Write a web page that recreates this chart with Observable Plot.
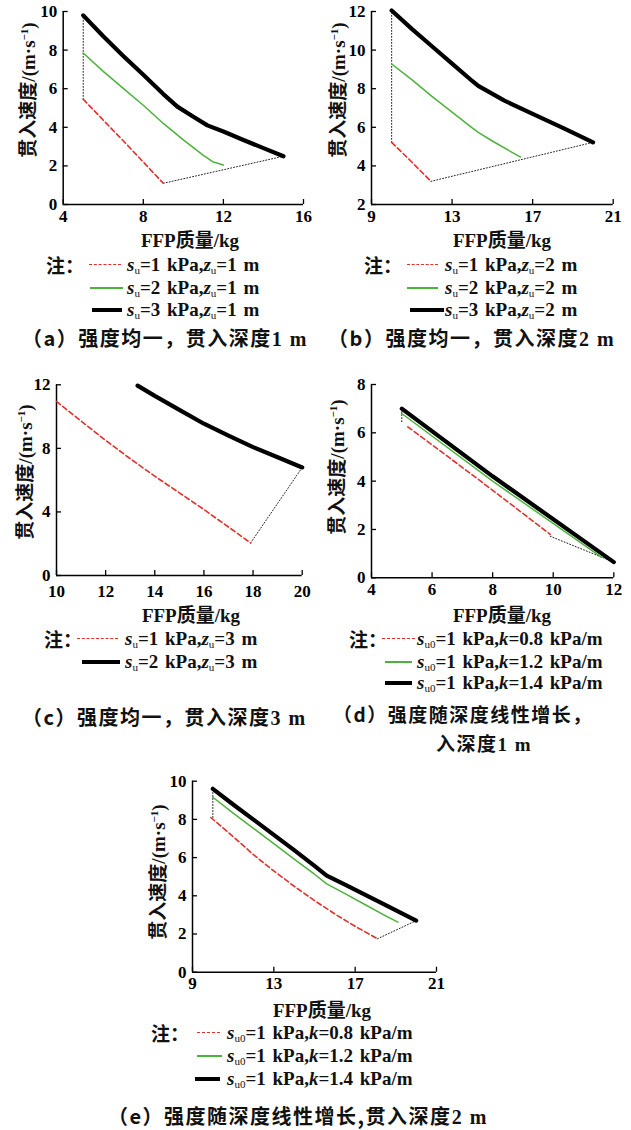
<!DOCTYPE html>
<html>
<head>
<meta charset="utf-8">
<script src="https://cdn.jsdelivr.net/npm/d3@7"></script>
<script src="https://cdn.jsdelivr.net/npm/@observablehq/plot@0.6"></script>
<style>
  html, body { margin: 0; padding: 0; background: #fff; }
  #page { position: relative; width: 631px; height: 1130px; overflow: hidden; background: #fff;
          font-family: "Liberation Serif", "Noto Sans CJK SC", serif; color: #111; font-weight: bold; }
  .abs { position: absolute; white-space: nowrap; }
  .ctr { transform: translate(-50%, -50%); }
  .rot { transform: translate(-50%, -50%) rotate(-90deg); }
  .ytitle { font-size: 19px; line-height: 22px; }
  .xtitle { font-size: 19px; line-height: 22px; }
  .leg { font-size: 19px; line-height: 20px; word-spacing: 2px; }
  .leg sub { font-size: 11px; vertical-align: -3px; line-height: 0; font-weight: normal; }
  .ytitle sup { font-size: 11px; vertical-align: 7px; line-height: 0; }
  .cap { font-size: 20px; line-height: 22px; letter-spacing: 1.5px; }
  .zh { font-family: "Noto Sans CJK SC", sans-serif; }
  .swatch { position: absolute; height: 0; }
</style>
</head>
<body>
<div id="page"></div>
<script>
// ---------------- DATA ----------------
// (a) uniform strength, depth 1 m
const aMassS1 = [5, 7, 9];
const aVelS1  = [5.45, 3.3, 1.1];
const aMassS2 = [5, 6, 7, 8, 9, 10, 11, 11.5, 12];
const aVelS2  = [7.85, 6.9, 6.02, 5.14, 4.2, 3.35, 2.55, 2.2, 2.05];
const aMassS3 = [5, 6, 7, 8, 9, 9.7, 10.5, 11.2, 12, 13, 14, 15];
const aVelS3  = [9.8, 8.72, 7.7, 6.72, 5.72, 5.07, 4.55, 4.1, 3.78, 3.34, 2.92, 2.5];
const aMassStart = [5, 5];   const aVelStart = [5.45, 9.8];
const aMassEnd   = [9, 15];  const aVelEnd   = [1.1, 2.5];

// (b) uniform strength, depth 2 m
const bMassS1 = [10, 11, 11.95];
const bVelS1  = [5.22, 4.2, 3.2];
const bMassS2 = [10, 11, 12, 13, 14, 14.3, 15, 16, 16.4];
const bVelS2  = [9.28, 8.47, 7.6, 6.79, 5.97, 5.74, 5.29, 4.69, 4.45];
const bMassS3 = [10, 11, 12, 13, 14, 14.3, 15.6, 17, 18.5, 20];
const bVelS3  = [12.05, 11.1, 10.2, 9.3, 8.4, 8.15, 7.38, 6.7, 5.97, 5.22];
const bMassStart = [10, 10];     const bVelStart = [5.22, 12.05];
const bMassEnd   = [11.95, 20];  const bVelEnd   = [3.2, 5.22];

// (c) uniform strength, depth 3 m
const cMassS1 = [10, 11, 12, 13, 14, 15, 16, 17, 17.9];
const cVelS1  = [10.95, 9.72, 8.5, 7.35, 6.25, 5.2, 4.15, 3.05, 2.05];
const cMassS2 = [13.3, 14, 15, 16, 17, 18, 19, 20];
const cVelS2  = [11.95, 11.3, 10.42, 9.55, 8.8, 8.08, 7.44, 6.8];
const cMassEnd = [17.9, 20];  const cVelEnd = [2.05, 6.8];

// (d) strength increasing with depth, depth 1 m
const dMassK08 = [5.2, 7.5, 9.9];
const dVelK08  = [6.25, 4.1, 1.8];
const dMassK12 = [5, 8, 11.6];
const dVelK12  = [6.8, 4.0, 0.85];
const dMassK14 = [5, 8, 12];
const dVelK14  = [7.0, 4.2, 0.65];
const dMassStart = [5, 5];     const dVelStart = [7.0, 6.4];
const dMassEnd   = [9.9, 12];  const dVelEnd   = [1.72, 0.65];

// (e) strength increasing with depth, depth 2 m
const eMassK08 = [9.9, 11, 12, 13, 14, 15, 16, 17, 18.1];
const eVelK08  = [8.1, 7.1, 6.15, 5.3, 4.5, 3.75, 3.05, 2.4, 1.75];
const eMassK12 = [10, 11, 12, 13, 14, 15, 15.6, 16.5, 17.5, 18.5, 19.1];
const eVelK12  = [9.16, 8.33, 7.53, 6.73, 5.92, 5.13, 4.62, 4.11, 3.53, 2.95, 2.62];
const eMassK14 = [10, 11, 12, 13, 14, 15, 15.6, 16.5, 17.5, 18.5, 20];
const eVelK14  = [9.6, 8.78, 7.99, 7.19, 6.39, 5.57, 5.06, 4.59, 4.05, 3.51, 2.7];
const eMassStart = [10, 10];     const eVelStart = [8.1, 9.6];
const eMassEnd   = [18.1, 20];   const eVelEnd   = [1.75, 2.7];

// ticks
const aXTicks = [4, 8, 12, 16];        const aYTicks = [0, 2, 4, 6, 8, 10];
const bXTicks = [9, 13, 17, 21];       const bYTicks = [2, 4, 6, 8, 10, 12];
const cXTicks = [10, 12, 14, 16, 18, 20]; const cYTicks = [0, 4, 8, 12];
const dXTicks = [4, 6, 8, 10, 12];     const dYTicks = [0, 2, 4, 6, 8];
const eXTicks = [9, 13, 17, 21];       const eYTicks = [0, 2, 4, 6, 8, 10];

// ---------------- STYLES ----------------
const RED = "#e5302a", GREEN = "#4cb33a", BLACK = "#000";
const styleRed   = {stroke: RED, strokeWidth: 1.6, strokeDasharray: "5,3"};
const styleGreen = {stroke: GREEN, strokeWidth: 1.5};
const styleBlack = {stroke: BLACK, strokeWidth: 4.2, strokeLinejoin: "round"};
const styleDot   = {stroke: "#222", strokeWidth: 1, strokeDasharray: "1,2"};

const page = document.getElementById("page");
const pts = (xs, ys) => xs.map((x, i) => ({x, y: ys[i]}));
const SERIF = "'Liberation Serif', 'DejaVu Serif', serif";

function panel(cfg) {
  const marks = [
    Plot.axisX(cfg.xTicks, {tickSize: -5, tickPadding: cfg.xPad || 10, label: null, strokeWidth: 1.3,
      fontSize: 17, fontWeight: "bold", fontFamily: SERIF}),
    Plot.axisY(cfg.yTicks, {tickSize: -5, tickPadding: 11, label: null, strokeWidth: 1.3,
      fontSize: 17, fontWeight: "bold", fontFamily: SERIF}),
    Plot.ruleY([cfg.yDomain[0]], {stroke: "#000", strokeWidth: 1.5}),
    Plot.ruleX([cfg.xDomain[0]], {stroke: "#000", strokeWidth: 1.5})
  ];
  for (const d of cfg.dotted) marks.push(Plot.line(pts(d[0], d[1]), {x: "x", y: "y", ...styleDot}));
  for (const s of cfg.series) marks.push(Plot.line(pts(s[0], s[1]), {x: "x", y: "y", ...s[2]}));
  const svg = Plot.plot({
    width: cfg.w, height: cfg.h,
    marginLeft: cfg.m[3], marginRight: cfg.m[1], marginTop: cfg.m[0], marginBottom: cfg.m[2],
    x: {domain: cfg.xDomain}, y: {domain: cfg.yDomain},
    style: {background: "transparent", color: "#000", overflow: "visible", fontFamily: SERIF, fontSize: "17px", fontWeight: "bold"},
    marks
  });
  svg.style.position = "absolute";
  svg.style.left = cfg.left + "px";
  svg.style.top = cfg.top + "px";
  page.appendChild(svg);
}

function text(html, cls, x, y, mode) {
  const el = document.createElement("div");
  el.className = "abs " + cls + (mode === "c" ? " ctr" : mode === "r" ? " rot" : "");
  el.innerHTML = html;
  el.style.left = x + "px";
  el.style.top = y + "px";
  page.appendChild(el);
  return el;
}
function leftText(html, cls, x, cy, lh) {
  return text(html, cls, x, cy - lh / 2);
}
function swatch(x1, x2, cy, kind) {
  const el = document.createElement("div");
  el.className = "swatch";
  el.style.left = x1 + "px";
  el.style.width = (x2 - x1) + "px";
  if (kind === "red") { el.style.borderTop = "1.6px dashed " + RED; el.style.top = (cy - 0.8) + "px"; }
  if (kind === "green") { el.style.borderTop = "2px solid " + GREEN; el.style.top = (cy - 1) + "px"; }
  if (kind === "black") { el.style.borderTop = "4px solid #000"; el.style.top = (cy - 2) + "px"; }
  page.appendChild(el);
}

const yTitle = '<span class="zh">贯入速度</span>/(m·s<sup>−1</sup>)';
const xTitle = 'FFP<span class="zh">质量</span>/kg';
const su = (v, z) => `<i>s</i><sub>u</sub>=${v} kPa,<i>z</i><sub>u</sub>=${z} m`;
const sk = (k) => `<i>s</i><sub>u0</sub>=1 kPa,<i>k</i>=${k} kPa/m`;
const note = '<span class="zh">注：</span>';

// ---------------- PANEL (a) ----------------
panel({left: 0, top: 0, w: 320, h: 230, m: [11, 17, 26, 62.7],
  xDomain: [4, 16], yDomain: [0, 10], xTicks: aXTicks, yTicks: aYTicks,
  dotted: [[aMassStart, aVelStart], [aMassEnd, aVelEnd]],
  series: [[aMassS1, aVelS1, styleRed], [aMassS2, aVelS2, styleGreen], [aMassS3, aVelS3, styleBlack]]});
text(yTitle, "ytitle", 28, 90, "r");
text(xTitle, "xtitle", 190, 240, "c");
leftText(note, "leg", 46, 265, 20);
swatch(89, 121, 265, "red"); swatch(90, 123, 288, "green"); swatch(92, 122, 310, "black");
leftText(su(1, 1), "leg", 127, 265, 20);
leftText(su(2, 1), "leg", 127, 288, 20);
leftText(su(3, 1), "leg", 127, 310, 20);
leftText('<span class="zh">（a）强度均一，贯入深度</span>1 m', "cap", 22, 338, 22);

// ---------------- PANEL (b) ----------------
panel({left: 310, top: 0, w: 321, h: 230, m: [11, 18.3, 26, 61],
  xDomain: [9, 21], yDomain: [2, 12], xTicks: bXTicks, yTicks: bYTicks,
  dotted: [[bMassStart, bVelStart], [bMassEnd, bVelEnd]],
  series: [[bMassS1, bVelS1, styleRed], [bMassS2, bVelS2, styleGreen], [bMassS3, bVelS3, styleBlack]]});
text(yTitle, "ytitle", 338, 90, "r");
text(xTitle, "xtitle", 502, 240, "c");
leftText(note, "leg", 364, 265, 20);
swatch(407, 438, 265, "red"); swatch(407, 438, 288, "green"); swatch(410, 444, 310, "black");
leftText(su(1, 2), "leg", 445, 265, 20);
leftText(su(2, 2), "leg", 445, 288, 20);
leftText(su(3, 2), "leg", 445, 310, 20);
leftText('<span class="zh">（b）强度均一，贯入深度</span>2 m', "cap", 328, 338, 22);

// ---------------- PANEL (c) ----------------
panel({left: 0, top: 360, w: 320, h: 240, m: [24.3, 18.3, 25, 56], xPad: 14,
  xDomain: [10, 20], yDomain: [0, 12], xTicks: cXTicks, yTicks: cYTicks,
  dotted: [[cMassEnd, cVelEnd]],
  series: [[cMassS1, cVelS1, styleRed], [cMassS2, cVelS2, styleBlack]]});
text(yTitle, "ytitle", 25, 472, "r");
text(xTitle, "xtitle", 191, 615, "c");
leftText(note, "leg", 44, 639, 20);
swatch(77, 118, 639, "red"); swatch(82, 120, 662, "black");
leftText(su(1, 3), "leg", 125, 639, 20);
leftText(su(2, 3), "leg", 125, 662, 20);
leftText('<span class="zh">（c）强度均一，贯入深度</span>3 m', "cap", 22, 717, 22);

// ---------------- PANEL (d) ----------------
panel({left: 310, top: 360, w: 321, h: 243, m: [24, 17.7, 25.7, 61],
  xDomain: [4, 12], yDomain: [0, 8], xTicks: dXTicks, yTicks: dYTicks,
  dotted: [[dMassStart, dVelStart], [dMassEnd, dVelEnd]],
  series: [[dMassK08, dVelK08, styleRed], [dMassK12, dVelK12, styleGreen], [dMassK14, dVelK14, styleBlack]]});
text(yTitle, "ytitle", 337, 467, "r");
text(xTitle, "xtitle", 502, 615, "c");
leftText(note, "leg", 349, 639, 20);
swatch(382, 415, 639, "red"); swatch(385, 412, 662, "green"); swatch(385, 412, 683, "black");
leftText(sk("0.8"), "leg", 417, 639, 20);
leftText(sk("1.2"), "leg", 417, 662, 20);
leftText(sk("1.4"), "leg", 417, 683, 20);
leftText('<span class="zh" style="font-size:19px">（d）强度随深度线性增长，</span>', "cap", 333, 714, 22);
leftText('<span class="zh" style="font-size:19px">入深度</span><span style="font-size:19px">1 m</span>', "cap", 436, 743, 22);

// ---------------- PANEL (e) ----------------
panel({left: 130, top: 760, w: 320, h: 237, m: [20.7, 14, 25.3, 62],
  xDomain: [9, 21], yDomain: [0, 10], xTicks: eXTicks, yTicks: eYTicks,
  dotted: [[eMassStart, eVelStart], [eMassEnd, eVelEnd]],
  series: [[eMassK08, eVelK08, styleRed], [eMassK12, eVelK12, styleGreen], [eMassK14, eVelK14, styleBlack]]});
text(yTitle, "ytitle", 158, 872, "r");
text(xTitle, "xtitle", 322, 1010, "c");
leftText(note, "leg", 151, 1033, 20);
swatch(197, 220, 1033, "red"); swatch(197, 222, 1056, "green"); swatch(195, 220, 1079, "black");
leftText(sk("0.8"), "leg", 227, 1033, 20);
leftText(sk("1.2"), "leg", 227, 1056, 20);
leftText(sk("1.4"), "leg", 227, 1079, 20);
leftText('<span class="zh">（e）强度随深度线性增长,贯入深度</span>2 m', "cap", 108, 1116, 22);
</script>
</body>
</html>
